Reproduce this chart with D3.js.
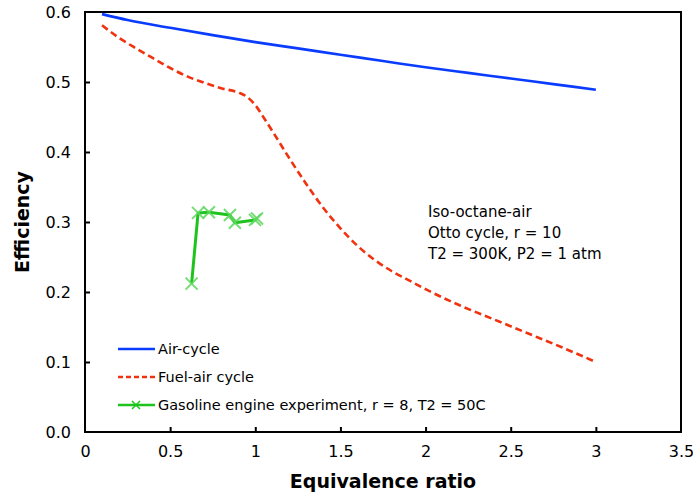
<!DOCTYPE html>
<html><head><meta charset="utf-8">
<script src="https://cdn.jsdelivr.net/npm/d3@7"></script>
<style>body{margin:0;background:#fff}text{font-family:"DejaVu Sans",Verdana,sans-serif}</style>
</head><body>
<svg id="c" width="693" height="497"></svg>
<script>
const xTicks = [0, 0.5, 1, 1.5, 2, 2.5, 3, 3.5];
const yTicks = [0, 0.1, 0.2, 0.3, 0.4, 0.5, 0.6];
const airX = [0.1, 0.25, 0.5, 0.75, 1.0, 1.25, 1.5, 1.75, 2.0, 2.25, 2.5, 2.75, 3.0];
const airY = [0.597, 0.5885, 0.5775, 0.567, 0.557, 0.548, 0.539, 0.530, 0.521, 0.513, 0.505, 0.497, 0.489];
const fuelX = [0.1, 0.2, 0.3, 0.4, 0.5, 0.6, 0.7, 0.8, 0.9, 0.95, 1.0, 1.05, 1.1, 1.2, 1.3, 1.4, 1.5, 1.6, 1.7, 1.8, 1.9, 2.0, 2.2, 2.4, 2.6, 2.8, 3.0];
const fuelY = [0.581, 0.563, 0.548, 0.534, 0.520, 0.508, 0.499, 0.491, 0.485, 0.479, 0.467, 0.449, 0.430, 0.391, 0.354, 0.320, 0.291, 0.266, 0.246, 0.230, 0.217, 0.204, 0.181, 0.161, 0.141, 0.121, 0.1];
const expX = [0.626, 0.664, 0.728, 0.851, 0.88, 0.998, 1.01];
const expY = [0.212, 0.313, 0.314, 0.31, 0.299, 0.303, 0.305];
const legendLabels = ["Air-cycle", "Fuel-air cycle", "Gasoline engine experiment, r = 8, T2 = 50C"];
const noteLines = ["Iso-octane-air", "Otto cycle, r = 10", "T2 = 300K, P2 = 1 atm"];

const svg = d3.select("#c");
const L = 85, R = 681, T = 12, B = 432;
const x = d3.scaleLinear().domain([0, 3.5]).range([L, R]);
const y = d3.scaleLinear().domain([0, 0.6]).range([B, T]);

// frame
svg.append("rect").attr("x", L).attr("y", T).attr("width", R - L).attr("height", B - T)
  .attr("fill", "none").attr("stroke", "#000").attr("stroke-width", 2);

// axes
const xa = svg.append("g").attr("transform", `translate(0,${B})`)
  .call(d3.axisBottom(x).tickValues(xTicks).tickFormat(d3.format("")).tickSizeInner(-5).tickSizeOuter(0).tickPadding(14));
const ya = svg.append("g").attr("transform", `translate(${L},0)`)
  .call(d3.axisLeft(y).tickValues(yTicks).tickFormat(d3.format(".1f")).tickSizeInner(-5).tickSizeOuter(0).tickPadding(14));
[xa, ya].forEach(a => {
  a.select(".domain").remove();
  a.selectAll(".tick line").attr("stroke", "#000").attr("stroke-width", 2);
  a.selectAll(".tick text").attr("font-size", 16).attr("fill", "#000").style("font-family", '"DejaVu Sans",Verdana,sans-serif');
});
xa.selectAll(".tick").filter(d => d === 0 || d === 3.5).select("line").remove();
ya.selectAll(".tick").filter(d => d === 0 || d === 0.6).select("line").remove();

// axis titles
svg.append("text").attr("x", (L + R) / 2).attr("y", 488).attr("text-anchor", "middle")
  .attr("font-size", 19).attr("font-weight", "bold").text("Equivalence ratio");
svg.append("text").attr("transform", `translate(29,${(T + B) / 2}) rotate(-90)`).attr("text-anchor", "middle")
  .attr("font-size", 19).attr("font-weight", "bold").text("Efficiency");

const line = d3.line().x(d => x(d[0])).y(d => y(d[1]));
const line2 = d3.line().curve(d3.curveMonotoneX).x(d => x(d[0])).y(d => y(d[1]));

const blue = "#0a3cff", red = "#f0320f", green = "#1ec31e";

svg.append("path").datum(airX.map((v, i) => [v, airY[i]])).attr("d", line2)
  .attr("fill", "none").attr("stroke", blue).attr("stroke-width", 2.6);
svg.append("path").datum(fuelX.map((v, i) => [v, fuelY[i]])).attr("d", line2)
  .attr("fill", "none").attr("stroke", red).attr("stroke-width", 2.6).attr("stroke-dasharray", "7,4");
const expPts = expX.map((v, i) => [v, expY[i]]);
svg.append("path").datum(expPts).attr("d", line)
  .attr("fill", "none").attr("stroke", green).attr("stroke-width", 3).attr("stroke-linejoin", "round");
const mk = 6;
svg.append("g").selectAll("path").data(expPts).join("path")
  .attr("d", d => { const cx = x(d[0]), cy = y(d[1]); return `M${cx-mk},${cy-mk}L${cx+mk},${cy+mk}M${cx-mk},${cy+mk}L${cx+mk},${cy-mk}`; })
  .attr("stroke", "#5fd85f").attr("stroke-width", 2).attr("opacity", 0.85);

// legend
const lg = svg.append("g");
const ly = [349, 377, 405];
const sty = [{c: blue, d: null}, {c: red, d: "5,3"}, {c: green, d: null}];
legendLabels.forEach((t, i) => {
  lg.append("line").attr("x1", 118).attr("x2", 155).attr("y1", ly[i]).attr("y2", ly[i])
    .attr("stroke", sty[i].c).attr("stroke-width", 2.6).attr("stroke-dasharray", sty[i].d);
  if (i === 2) {
    lg.append("path").attr("d", `M132,${ly[i]-4}L140,${ly[i]+4}M132,${ly[i]+4}L140,${ly[i]-4}`)
      .attr("stroke", green).attr("stroke-width", 1.5);
  }
  lg.append("text").attr("x", 158).attr("y", ly[i] + 5).attr("font-size", 14.5).text(t);
});

// annotation
noteLines.forEach((t, i) => {
  svg.append("text").attr("x", 428).attr("y", 217 + i * 21).attr("font-size", 15).text(t);
});
</script>
</body></html>
